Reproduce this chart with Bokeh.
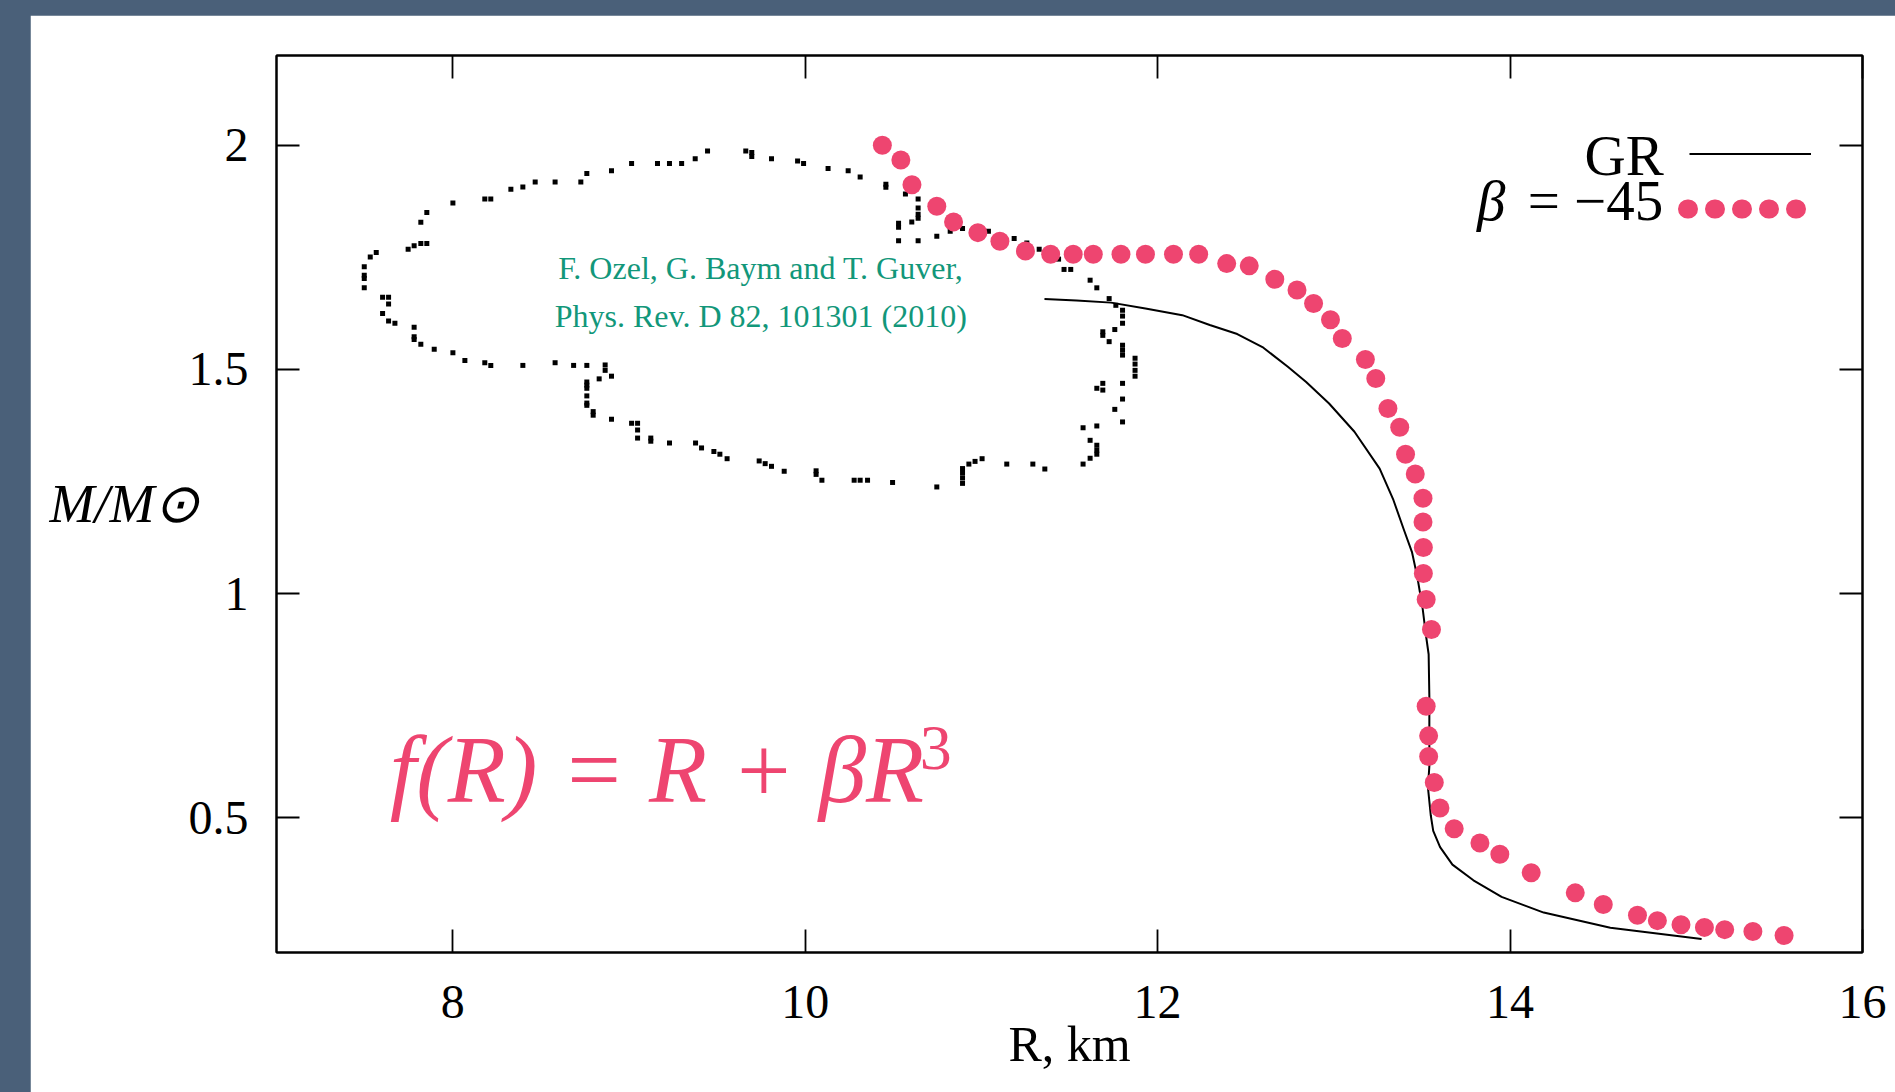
from bokeh.plotting import figure
from bokeh.models import (Legend, LegendItem, Label, FixedTicker, LinearAxis,
                          Range1d, ColumnDataSource)
from bokeh.layouts import column
from bokeh.embed import file_html
from bokeh.resources import INLINE

# ---------------- data ----------------
# GR mass-radius curve
gr_r = [11.358, 11.540, 11.736, 11.931, 12.140, 12.296, 12.452, 12.595, 12.739, 12.843,
        12.973, 13.117, 13.260, 13.338, 13.398, 13.444, 13.474, 13.504, 13.524, 13.538,
        13.542, 13.542, 13.534, 13.550, 13.564, 13.603, 13.673, 13.792, 13.952, 14.191,
        14.569, 15.087]
gr_m = [1.657, 1.654, 1.649, 1.636, 1.621, 1.599, 1.579, 1.550, 1.506, 1.472,
        1.424, 1.361, 1.279, 1.209, 1.142, 1.092, 1.037, 0.967, 0.904, 0.865,
        0.771, 0.615, 0.568, 0.506, 0.471, 0.435, 0.396, 0.361, 0.324, 0.289,
        0.255, 0.230]

# beta = -45 curve (dots)
beta_r = [10.438, 10.543, 10.606, 10.747, 10.842, 10.980, 11.105, 11.250, 11.393, 11.521,
          11.635, 11.792, 11.931, 12.090, 12.233, 12.392, 12.520, 12.665, 12.791, 12.885,
          12.981, 13.048, 13.179, 13.238, 13.307, 13.374, 13.407, 13.462, 13.506, 13.506,
          13.508, 13.508, 13.524, 13.554, 13.524, 13.538, 13.538, 13.570, 13.602, 13.683,
          13.829, 13.942, 14.120, 14.370, 14.529, 14.723, 14.836, 14.970, 15.103, 15.218,
          15.378, 15.555]
beta_m = [2.000, 1.967, 1.912, 1.864, 1.829, 1.805, 1.786, 1.764, 1.757, 1.757,
          1.757, 1.757, 1.757, 1.757, 1.757, 1.736, 1.731, 1.701, 1.677, 1.647,
          1.611, 1.569, 1.522, 1.480, 1.413, 1.371, 1.311, 1.267, 1.213, 1.160,
          1.103, 1.045, 0.987, 0.920, 0.749, 0.683, 0.637, 0.579, 0.522, 0.476,
          0.444, 0.419, 0.378, 0.333, 0.307, 0.283, 0.271, 0.262, 0.256, 0.251,
          0.247, 0.238]

# Ozel, Baym & Guver (2010) contour (black squares)
contour_r = [7.498, 7.498, 7.498, 7.498, 7.532, 7.566, 7.747, 7.781, 7.819, 7.853,
             7.819, 7.853, 8.001, 8.182, 8.216, 8.330, 8.398, 8.468, 8.581, 8.727,
             8.761, 8.901, 9.015, 9.162, 9.230, 9.299, 9.376, 9.446, 9.663, 9.697,
             9.697, 9.809, 9.957, 9.991, 10.130, 10.244, 10.312, 10.458, 10.458, 10.569,
             10.641, 10.641, 10.641, 10.641, 10.605, 10.530, 10.530, 10.530, 10.641, 10.747,
             10.823, 10.893, 11.040, 11.186, 11.258, 11.328, 11.438, 11.469, 11.507, 11.617,
             11.655, 11.725, 11.763, 11.801, 11.801, 11.801, 11.757, 11.689, 11.689, 11.725,
             11.801, 11.801, 11.801, 11.872, 11.872, 11.872, 11.872, 11.801, 11.689, 11.689,
             11.655, 11.801, 11.757, 11.801, 11.655, 11.577, 11.617, 11.655, 11.655, 11.655,
             11.617, 11.577, 11.360, 11.292, 11.144, 11.004, 10.964, 10.929, 10.893, 10.893,
             10.893, 10.893, 10.747, 10.496, 10.354, 10.312, 10.278, 10.095, 10.062, 10.062,
             9.881, 9.809, 9.773, 9.739, 9.557, 9.516, 9.482, 9.412, 9.378, 9.230,
             9.124, 9.124, 9.049, 9.049, 9.049, 9.015, 8.901, 8.797, 8.797, 8.761,
             8.761, 8.761, 8.761, 8.761, 8.761, 8.831, 8.901, 8.865, 8.865, 8.761,
             8.686, 8.581, 8.398, 8.216, 8.182, 8.069, 8.001, 7.895, 7.819, 7.781,
             7.781, 7.781, 7.672, 7.636, 7.602, 7.636, 7.636, 7.602]
contour_m = [1.682, 1.703, 1.710, 1.729, 1.751, 1.761, 1.768, 1.776, 1.781, 1.781,
             1.828, 1.850, 1.871, 1.880, 1.880, 1.902, 1.907, 1.918, 1.918, 1.918,
             1.937, 1.943, 1.959, 1.959, 1.959, 1.959, 1.970, 1.987, 1.987, 1.984,
             1.975, 1.970, 1.965, 1.959, 1.948, 1.943, 1.929, 1.913, 1.906, 1.891,
             1.880, 1.860, 1.846, 1.837, 1.829, 1.826, 1.817, 1.787, 1.787, 1.797,
             1.808, 1.814, 1.808, 1.792, 1.782, 1.768, 1.746, 1.723, 1.723, 1.699,
             1.682, 1.658, 1.643, 1.632, 1.619, 1.603, 1.589, 1.584, 1.576, 1.562,
             1.554, 1.543, 1.532, 1.525, 1.512, 1.498, 1.485, 1.469, 1.469, 1.454,
             1.458, 1.434, 1.411, 1.383, 1.374, 1.370, 1.342, 1.331, 1.320, 1.311,
             1.302, 1.289, 1.278, 1.289, 1.289, 1.301, 1.295, 1.289, 1.279, 1.269,
             1.258, 1.246, 1.238, 1.248, 1.253, 1.253, 1.253, 1.253, 1.266, 1.274,
             1.273, 1.284, 1.290, 1.296, 1.301, 1.311, 1.317, 1.325, 1.336, 1.336,
             1.347, 1.340, 1.347, 1.365, 1.380, 1.380, 1.389, 1.398, 1.406, 1.420,
             1.425, 1.441, 1.458, 1.465, 1.472, 1.479, 1.485, 1.498, 1.510, 1.509,
             1.509, 1.515, 1.509, 1.509, 1.515, 1.520, 1.537, 1.545, 1.556, 1.567,
             1.573, 1.594, 1.603, 1.608, 1.625, 1.646, 1.661, 1.661]

x_ticks = [8, 10, 12, 14, 16]
y_ticks = [0.5, 1, 1.5, 2]
y_tick_labels = ["0.5", "1", "1.5", "2"]

x_title = "R, km"
y_title = "M/M\u2299"
series_names = ["GR", "\u03b2", " = \u221245"]
citation = ["F. Ozel, G. Baym and T. Guver,", "Phys. Rev. D 82, 101301 (2010)"]
formula = ["f(R) = R + \u03b2R", "3"]

# ---------------- style ----------------
PINK = "#ee4570"
GREEN = "#12977a"
SLATE = "#4a6079"
SERIF = "Liberation Serif"

p = figure(width=1865, height=1077, x_range=Range1d(7, 16), y_range=Range1d(0.2, 2.2),
           output_backend="svg", toolbar_location=None,
           min_border_left=246, min_border_right=33, min_border_top=40, min_border_bottom=140,
           background_fill_color="white", border_fill_color="white",
           outline_line_color="black", outline_line_width=2)
p.grid.visible = False

def style_axis(ax, show_labels):
    ax.major_tick_in = 23
    ax.major_tick_out = 0
    ax.minor_tick_in = 0
    ax.minor_tick_out = 0
    ax.major_tick_line_width = 1.8
    ax.major_tick_line_color = "black"
    ax.axis_line_width = 2
    ax.axis_line_color = "black"
    ax.major_label_text_font = SERIF
    if show_labels:
        ax.major_label_text_font_size = "48px"
        ax.major_label_text_color = "black"
    else:
        ax.major_label_text_font_size = "2px"
        ax.major_label_text_color = None

p.xaxis.ticker = FixedTicker(ticks=x_ticks)
p.yaxis.ticker = FixedTicker(ticks=y_ticks)
p.yaxis.major_label_overrides = {t: s for t, s in zip(y_ticks, y_tick_labels)}
style_axis(p.xaxis[0], True)
style_axis(p.yaxis[0], True)
p.xaxis.major_label_standoff = 33
p.yaxis.major_label_standoff = 28

# axis titles
xa = p.xaxis[0]
xa.axis_label = x_title
xa.axis_label_text_font = SERIF
xa.axis_label_text_font_size = "50px"
xa.axis_label_text_font_style = "normal"
xa.axis_label_text_color = "black"
xa.axis_label_standoff = -5

ya = p.yaxis[0]
ya.axis_label = y_title
ya.axis_label_text_font = SERIF
ya.axis_label_text_font_size = "54px"
ya.axis_label_text_font_style = "italic"
ya.axis_label_text_color = "black"
ya.axis_label_standoff = -14
if "axis_label_orientation" in ya.properties():
    ya.axis_label_orientation = "horizontal"

top_ax = LinearAxis(ticker=FixedTicker(ticks=x_ticks))
right_ax = LinearAxis(ticker=FixedTicker(ticks=y_ticks))
style_axis(top_ax, False)
style_axis(right_ax, False)
top_ax.major_label_standoff = 0
right_ax.major_label_standoff = 0
p.add_layout(top_ax, "above")
p.add_layout(right_ax, "right")

# ---------------- glyphs ----------------
gr = p.line(x="r", y="m", source=ColumnDataSource(dict(r=gr_r, m=gr_m)),
            line_color="black", line_width=2)
p.scatter(x="r", y="m", source=ColumnDataSource(dict(r=contour_r, m=contour_m)),
          marker="square", size=5, fill_color="black", line_color=None)
beta = p.scatter(x="r", y="m", source=ColumnDataSource(dict(r=beta_r, m=beta_m)),
                 marker="circle", size=19, fill_color=PINK, line_color=None)
# legend sample for the dotted series: a one-point line (draws nothing in the plot)
beta_key = p.line(x=beta_r[:1], y=beta_m[:1], line_color=PINK, line_width=19,
                  line_cap="round", line_dash="1 26", line_dash_offset=16)

common = dict(glyph_height=55, spacing=0, padding=0, margin=0, label_standoff=0,
              label_width=0, label_height=0, label_text_font_size="1px",
              label_text_color=None, border_line_color=None, background_fill_alpha=0)
legend_gr = Legend(items=[LegendItem(label=" ", renderers=[gr])],
                   location=(1413, 771), glyph_width=122, **common)
legend_beta = Legend(items=[LegendItem(label=" ", renderers=[beta_key])],
                     location=(1400, 716), glyph_width=130, **common)
p.add_layout(legend_gr)
p.add_layout(legend_beta)

# ---------------- texts inside the frame ----------------
def lab(x, y, text, size, color="black", style="normal", align="left",
        baseline="alphabetic", font=SERIF):
    p.add_layout(Label(x=x, y=y, text=text, text_font=font, text_font_size=size,
                       text_color=color, text_font_style=style, text_align=align,
                       text_baseline=baseline))

# legend names (left of their samples)
lab(14.872, 1.978, series_names[0], "57px", align="right")
lab(13.974, 1.877, series_names[1], "57px", style="italic", align="right")
lab(14.950, 1.877, series_names[2], "57px", align="right")

# citation
lab(9.748, 1.727, citation[0], "32px", color=GREEN, align="center")
lab(9.748, 1.619, citation[1], "32px", color=GREEN, align="center")

# formula
lab(7.643, 0.606, formula[0], "95px", color=PINK, style="italic")
lab(10.650, 0.655, formula[1], "64px", color=PINK)

p.margin = (15, 0, 0, 30)
root = column(p, styles={"background-color": SLATE})

open("out.html", "w").write(file_html(root, INLINE))
